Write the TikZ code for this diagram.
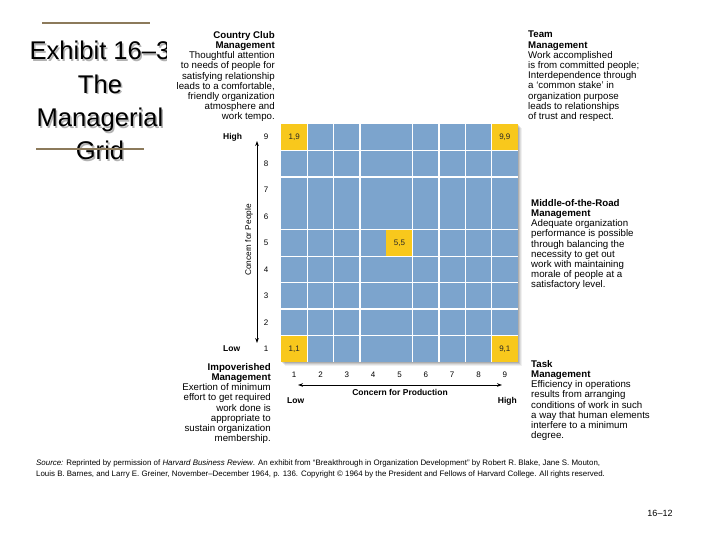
\documentclass[tikz,border=0pt]{standalone}
\usepackage{fontspec}
\setmainfont{Liberation Sans}
\usetikzlibrary{arrows.meta}
\definecolor{gridblue}{HTML}{7CA4CD}
\definecolor{cellyellow}{HTML}{F8C81C}
\definecolor{rulebrown}{HTML}{8C7A5B}
\begin{document}
\begin{tikzpicture}[x=1pt,y=-1pt,
  titletext/.style={font=\fontsize{25.6}{30}\selectfont, inner sep=0, anchor=base},
  titleshade/.style={titletext, text=black!30},
  note/.style={font=\fontsize{9.7}{10.2}\selectfont, inner sep=0},
  axnum/.style={font=\fontsize{8}{9}\selectfont, inner sep=0},
  axlab/.style={font=\fontsize{8.5}{10}\selectfont\bfseries, inner sep=0},
  cellbox/.style={fill=cellyellow, minimum width=26.33pt, minimum height=26.44pt, inner sep=0, font=\fontsize{8}{9}\selectfont, text=black!85},
  whiteline/.style={white, line width=1.3pt},
  axarrow/.style={{Stealth[length=5pt,width=3.6pt]}-{Stealth[length=5pt,width=3.6pt]}, line width=0.8pt},
]
\useasboundingbox (0,0) rectangle (720,540);
\fill[white] (0,0) rectangle (720,540);

% title with soft shadow
\foreach \t/\y [count=\i] in {Exhibit 16--3/60, The/93.3, Managerial/126.7, Grid/160}{
  \node[titleshade] (tshade\i) at (101.5,\y+1.5) {\t};
  \node[titletext] (title\i) at (100,\y) {\t};
}
\draw[rulebrown, line width=1.4pt] (42,23) -- (150,23);
\draw[rulebrown, line width=1.4pt] (36,149) -- (144,149);

% white panel of the exhibit
\fill[white] (167,26) rectangle (672,447);

% grid shadow
\foreach \o/\op in {4/0.06,3/0.08,2/0.10,1/0.12}
  \fill[black, opacity=\op] (281+\o,124+\o) rectangle (518+\o,362+\o);
\fill[gridblue] (281,124) rectangle (518,362);

% highlighted cells
\node[cellbox] (c19) at (294.17,137.22) {1,9};
\node[cellbox] (c99) at (504.83,137.22) {9,9};
\node[cellbox] (c55) at (399.5,243) {5,5};
\node[cellbox] (c11) at (294.17,348.78) {1,1};
\node[cellbox] (c91) at (504.83,348.78) {9,1};

% white grid lines
\foreach \k in {1,2,3,5,6,7,8}
  \draw[whiteline] ({281+\k*26.333},124) -- ({281+\k*26.333},362);
\foreach \k in {1,2,4,5,6,7,8}
  \draw[whiteline] (281,{124+\k*26.444}) -- (518,{124+\k*26.444});

% vertical axis
\foreach \r in {1,...,9}
  \node[axnum] (ly\r) at (266,{362-(\r-0.5)*26.444}) {\r};
\node[axlab, anchor=west] (yhigh) at (223,137.2) {High};
\node[axlab, anchor=west] (ylow) at (223,348.8) {Low};
\coordinate (ytop) at (257,141);
\coordinate (ybot) at (257,343);
\draw[axarrow] (ytop) -- (ybot);
\node[font=\fontsize{8.3}{10}\selectfont, inner sep=0, rotate=90] (ytitle) at (249,240) {Concern for People};

% horizontal axis
\foreach \c in {1,...,9}
  \node[axnum] (lx\c) at ({281+(\c-0.5)*26.333},375) {\c};
\coordinate (xleft) at (298,385);
\coordinate (xright) at (502,385);
\draw[axarrow] (xleft) -- (xright);
\node[axlab] (xtitle) at (400,392) {Concern for Production};
\node[axlab, anchor=west] (xlow) at (287,401) {Low};
\node[axlab, anchor=east] (xhigh) at (517,401) {High};

% style descriptions
\node[note, anchor=north east, align=right] (country) at (275,31)
  {\textbf{Country Club}\\\textbf{Management}\\Thoughtful attention\\to needs of people for\\satisfying relationship\\leads to a comfortable,\\friendly organization\\atmosphere and\\work tempo.};
\node[note, anchor=north west, align=left] (team) at (528,31)
  {\textbf{Team}\\\textbf{Management}\\Work accomplished\\is from committed people;\\Interdependence through\\a `common stake' in\\organization purpose\\leads to relationships\\of trust and respect.};
\node[note, anchor=north west, align=left] (middle) at (531,199)
  {\textbf{Middle-of-the-Road}\\\textbf{Management}\\Adequate organization\\performance is possible\\through balancing the\\necessity to get out\\work with maintaining\\morale of people at a\\satisfactory level.};
\node[note, anchor=north east, align=right] (impov) at (271,363)
  {\textbf{Impoverished}\\\textbf{Management}\\Exertion of minimum\\effort to get required\\work done is\\appropriate to\\sustain organization\\membership.};
\node[note, anchor=north west, align=left] (task) at (531,360)
  {\textbf{Task}\\\textbf{Management}\\Efficiency in operations\\results from arranging\\conditions of work in such\\a way that human elements\\interfere to a minimum\\degree.};

% source and page number
\node[font=\fontsize{7.9}{11}\selectfont, anchor=north west, align=left, inner sep=0] (src) at (36,460)
  {\textit{Source:} Reprinted by permission of \textit{Harvard Business Review}. An exhibit from ``Breakthrough in Organization Development'' by Robert R. Blake, Jane S. Mouton,\\Louis B. Barnes, and Larry E. Greiner, November--December 1964, p. 136. Copyright © 1964 by the President and Fellows of Harvard College. All rights reserved.};
\node[font=\fontsize{9}{10}\selectfont, inner sep=0] (pg) at (660,513) {16--12};
\end{tikzpicture}
\end{document}
